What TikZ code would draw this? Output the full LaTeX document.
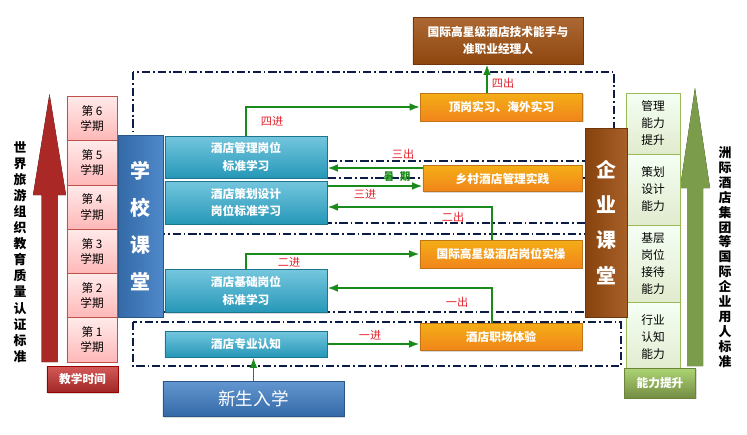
\documentclass[tikz,border=0pt]{standalone}
\usepackage{fontspec}
\setmainfont{Noto Sans CJK SC}
\usepackage{xcolor}
\usetikzlibrary{arrows.meta, positioning, shadows}
\definecolor{myteal}{HTML}{2AA8CC}
\definecolor{myorange}{HTML}{F0931E}
\definecolor{mybrown}{HTML}{9E4E10}
\definecolor{myblue}{HTML}{3C7CC4}
\definecolor{mynavy}{HTML}{0C1C44}
\definecolor{mygreen}{HTML}{1A8A1A}
\definecolor{myred}{HTML}{E3202A}
\definecolor{mypink}{HTML}{C0504D}
\definecolor{mylime}{HTML}{9BBB59}
\definecolor{arrowred}{HTML}{C8302E}
\definecolor{arrowgreen}{HTML}{A4D064}

\tikzset{
  shd/.style={drop shadow={shadow xshift=1pt, shadow yshift=-1pt, opacity=0.3}},
  tealbox/.style={shd, draw=myteal!70!black, top color=myteal!65!white, bottom color=myteal!90!black,
    text=white, inner sep=0pt, align=center, font=\fontsize{10}{15}\selectfont\bfseries},
  orangebox/.style={shd, draw=myorange!80!black, top color=myorange!75!yellow, bottom color=myorange!90!red,
    text=white, inner sep=0pt, align=center, font=\fontsize{10}{15}\selectfont\bfseries},
  sembox/.style={draw=mypink, top color=red!8, bottom color=red!28, minimum width=1.5cm,
    minimum height=1.33cm, inner sep=0pt, align=center, font=\fontsize{10}{13}\selectfont},
  abilitybox/.style={draw=mylime, top color=green!4!white, bottom color=mylime!30,
    minimum width=1.62cm, inner sep=0pt, align=center, font=\fontsize{10}{14.5}\selectfont},
  conn/.style={draw=mygreen, line width=1.7pt, -{Latex[length=9pt, width=6.5pt]}},
  lbl/.style={text=myred, font=\fontsize{9.5}{10}\selectfont},
  zone/.style={draw=mynavy, line width=1.5pt, dash pattern=on 7pt off 2.5pt on 1.5pt off 2.5pt},
}

\begin{document}
\begin{tikzpicture}[x=0.03cm, y=-0.03cm]
  \useasboundingbox (0,0) rectangle (747,434);

  % zones
  \draw[zone] (133,72) rectangle (614,161);
  \draw[zone] (163,178) rectangle (600,223);
  \draw[zone] (163,234) rectangle (600,312);
  \draw[zone] (133,322) rectangle (621,366);

  % big arrows
  \fill[left color=arrowred!85!black, middle color=arrowred!80!white, right color=arrowred!85!black]
    (41.5,362) -- (41.5,195) -- (33,195) -- (49.5,94) -- (66,195) -- (57.5,195) -- (57.5,362) -- cycle;
  \fill[left color=arrowgreen!75!black, middle color=arrowgreen!85!white, right color=arrowgreen!75!black]
    (687,366) -- (687,188) -- (680,188) -- (695,88) -- (710,188) -- (703,188) -- (703,366) -- cycle;

  \node[align=center, font=\fontsize{11}{13.7}\selectfont\bfseries] (wto) at (20,252)
    {世\\界\\旅\\游\\组\\织\\教\\育\\质\\量\\认\\证\\标\\准};
  \node[align=center, font=\fontsize{11}{12.7}\selectfont\bfseries] (ihg) at (725,257)
    {洲\\际\\酒\\店\\集\\团\\等\\国\\际\\企\\业\\用\\人\\标\\准};

  % semesters
  \foreach \i in {1,...,6}
    \node[sembox] (s\i) at (92,{362-44.3*(\i-0.5)}) {第 \i\\学期};
  \node[shd, draw=red!60!black, top color=arrowred!80!white, bottom color=arrowred!80!black,
        minimum width=2.13cm, minimum height=0.78cm, text=white,
        font=\fontsize{10}{12}\selectfont\bfseries] (jxsj) at (82.5,379.5) {教学时间};

  % abilities
  \node[abilitybox, minimum height=1.83cm] (a4) at (653,123.5) {管理\\能力\\提升};
  \node[abilitybox, minimum height=2.13cm] (a3) at (653,189.5) {策划\\设计\\能力};
  \node[abilitybox, minimum height=2.31cm] (a2) at (653,263.5) {基层\\岗位\\接待\\能力};
  \node[abilitybox, minimum height=2.13cm] (a1) at (653,337.5) {行业\\认知\\能力};
  \node[shd, draw=mylime!70!black, top color=arrowgreen!90!white, bottom color=mylime!75!black,
        minimum width=2.13cm, minimum height=0.9cm, text=white,
        font=\fontsize{10}{12}\selectfont\bfseries] (nlts) at (660,383) {能力提升};

  % school / company
  \node[shd, draw=myblue!70!black, left color=myblue!85!black, right color=myblue!90!white,
        minimum width=1.35cm, minimum height=5.46cm, inner sep=0pt, align=center, text=white,
        font=\fontsize{17}{31.5}\selectfont\bfseries] (xxkt) at (140.5,226) {学\\校\\课\\堂};
  \node[shd, draw=mybrown!70!black, left color=mybrown!85!black, right color=mybrown!90!white,
        minimum width=1.26cm, minimum height=5.67cm, inner sep=0pt, align=center, text=white,
        font=\fontsize{17}{30}\selectfont\bfseries] (qykt) at (606,222.5) {企\\业\\课\\堂};

  % school side
  \node[tealbox, minimum width=4.86cm, minimum height=1.26cm] (glxx) at (246,157) {酒店管理岗位\\标准学习};
  \node[tealbox, minimum width=4.86cm, minimum height=1.29cm] (chxx) at (246,202.5) {酒店策划设计\\岗位标准学习};
  \node[tealbox, minimum width=4.86cm, minimum height=1.29cm] (jcxx) at (246,291) {酒店基础岗位\\标准学习};
  \node[tealbox, minimum width=4.86cm, minimum height=0.78cm] (zyrz) at (246,344) {酒店专业认知};
  \node[shd, draw=myblue!70!black, top color=myblue!80!white, bottom color=myblue!85!black,
        minimum width=5.43cm, minimum height=1.05cm, text=white,
        font=\fontsize{15}{16}\selectfont] (xsrx) at (253.5,399) {新生入学};

  % company side
  \node[shd, draw=mybrown!70!black, top color=mybrown!85!white, bottom color=mybrown!90!black,
        minimum width=5.1cm, minimum height=1.41cm, inner sep=0pt, align=center, text=white,
        font=\fontsize{10}{14.2}\selectfont\bfseries] (top) at (498,40.5) {国际高星级酒店技术能手与\\准职业经理人};
  \node[orangebox, minimum width=4.86cm, minimum height=0.84cm] (dgsx) at (501.5,107) {顶岗实习、海外实习};
  \node[orangebox, minimum width=4.77cm, minimum height=0.78cm] (xcsj) at (502.5,178.5) {乡村酒店管理实践};
  \node[orangebox, minimum width=4.86cm, minimum height=0.84cm] (gjsc) at (501,254) {国际高星级酒店岗位实操};
  \node[orangebox, minimum width=4.86cm, minimum height=0.81cm] (zcty) at (501,337) {酒店职场体验};

  % connectors
  \coordinate (ra) at (487,0);
  \coordinate (p3o) at (0,168);
  \coordinate (p3i) at (0,186);
  \coordinate (p2o) at (492,207);
  \coordinate (p1o) at (492,288);
  \draw[conn] (dgsx.north -| ra) -- (top.south -| ra);
  \draw[conn] (glxx.north) |- (dgsx.west);
  \draw[conn] (xcsj.west |- p3o) -- (glxx.east |- p3o);
  \draw[conn] (chxx.east |- p3i) -- (xcsj.west |- p3i);
  \draw[conn] (gjsc.north -| p2o) -- (p2o) -- (chxx.east |- p2o);
  \draw[conn] (jcxx.north) |- (gjsc.west);
  \draw[conn] (zcty.north -| p1o) -- (p1o) -- (jcxx.east |- p1o);
  \draw[conn] (zyrz.east) -- (zcty.west |- zyrz.east);
  \draw[conn] (xsrx.north) -- (zyrz.south -| xsrx.north);

  % labels
  \node[lbl] (l4o) at (503,83) {四出};
  \node[lbl] (l4i) at (272,121) {四进};
  \node[lbl] (l3o) at (403,154) {三出};
  \node[lbl, text=mygreen, font=\fontsize{9}{10}\selectfont\bfseries] (lsq) at (397,176.5) {暑\hspace{5pt}期};
  \node[lbl] (l3i) at (365,194) {三进};
  \node[lbl] (l2o) at (453,217) {二出};
  \node[lbl] (l2i) at (289,262) {二进};
  \node[lbl] (l1o) at (457,302) {一出};
  \node[lbl] (l1i) at (370,335) {一进};
\end{tikzpicture}
\end{document}
